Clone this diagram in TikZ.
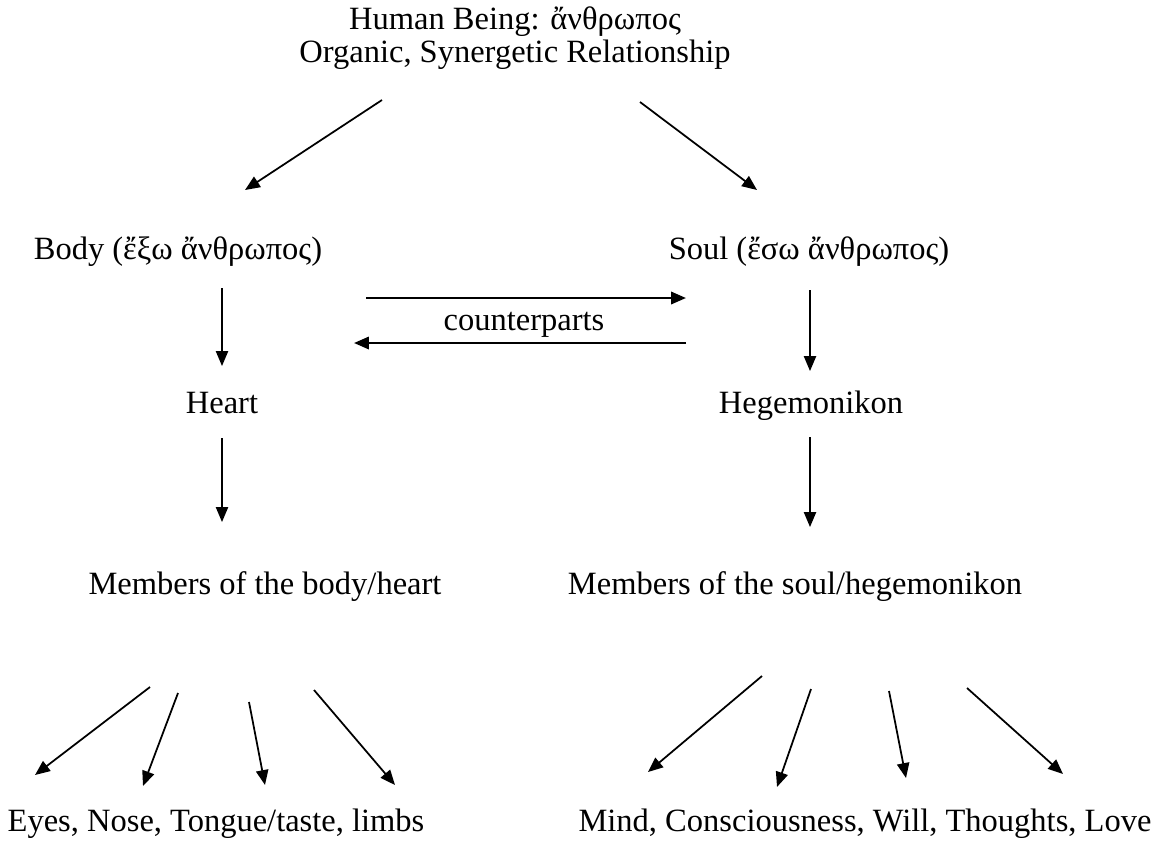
\documentclass[tikz,border=0pt]{standalone}
\usepackage{fontspec}
\setmainfont{Liberation Serif}
\usepackage{tikz}
\usetikzlibrary{positioning,arrows.meta}

\begin{document}
\begin{tikzpicture}[x=0.02cm,y=-0.02cm,font=\fontsize{18.5}{19}\selectfont,
  lbl/.style={inner sep=0pt,anchor=base},
  arr/.style={-{Triangle[length=8.5pt,width=7pt]},line width=1pt},
  thinarr/.style={arr,line width=0.7pt},
  thickarr/.style={arr,line width=1.4pt}]
 \useasboundingbox (0,0) rectangle (1155,853);
 % labels
 \node[inner sep=0pt,align=center] (man) at (515,38) {Human Being: ἄνθρωπος\\Organic, Synergetic Relationship};
 \node[lbl] (body) at (178,259) {Body (ἔξω ἄνθρωπος)};
 \node[lbl] (soul) at (809,259) {Soul (ἔσω ἄνθρωπος)};
 \node[lbl] (cp) at (524,330) {counterparts};
 \node[lbl] (heart) at (222,413) {Heart};
 \node[lbl] (hege) at (811,413) {Hegemonikon};
 \node[lbl] (mbody) at (265,594) {Members of the body/heart};
 \node[lbl] (msoul) at (795,594) {Members of the soul/hegemonikon};
 \node[lbl] (organs) at (216,831) {Eyes, Nose, Tongue/taste, limbs};
 \node[lbl] (powers) at (865,831) {Mind, Consciousness, Will, Thoughts, Love};
 % arrow ends
 \coordinate (m1) at (382,100); \coordinate (m2) at (640,102);
 \coordinate (b0) at (245,190); \coordinate (s0) at (757,190);
 \coordinate (c1) at (366,298); \coordinate (c2) at (686,298);
 \coordinate (c3) at (686,343); \coordinate (c4) at (354,343);
 \coordinate (b1) at (222,288); \coordinate (b2) at (222,366);
 \coordinate (s1) at (810,290); \coordinate (s2) at (810,371);
 \coordinate (h1) at (222,438); \coordinate (h2) at (222,522);
 \coordinate (g1) at (810,437); \coordinate (g2) at (810,527);
 \coordinate (l1) at (150,687); \coordinate (l1e) at (35,775);
 \coordinate (l2) at (178,693); \coordinate (l2e) at (143,786);
 \coordinate (l3) at (249,702); \coordinate (l3e) at (265,785);
 \coordinate (l4) at (314,690); \coordinate (l4e) at (395,785);
 \coordinate (r1) at (762,676); \coordinate (r1e) at (648,772);
 \coordinate (r2) at (811,689); \coordinate (r2e) at (777,787);
 \coordinate (r3) at (889,691); \coordinate (r3e) at (906,778);
 \coordinate (r4) at (967,688); \coordinate (r4e) at (1063,774);
 \path[arr]
 (m1) edge (b0)
 (m2) edge (s0)
 (c1) edge[thickarr] (c2)
 (c3) edge[thickarr] (c4)
 (b1) edge[thinarr] (b2)
 (s1) edge[thinarr] (s2)
 (h1) edge[thinarr] (h2)
 (g1) edge[thinarr] (g2)

 (l1) edge (l1e)
 (l2) edge (l2e)
 (l3) edge (l3e)
 (l4) edge (l4e)
 (r1) edge (r1e)
 (r2) edge (r2e)
 (r3) edge (r3e)
 (r4) edge (r4e);
\end{tikzpicture}
\end{document}
